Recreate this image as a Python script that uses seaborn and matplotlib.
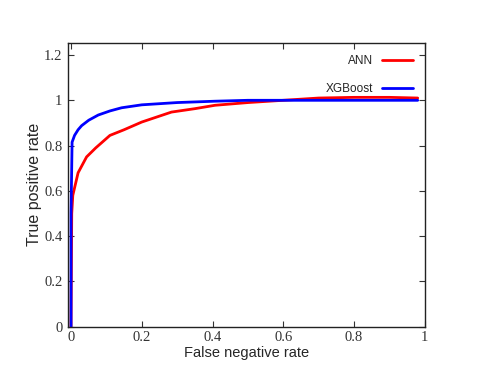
import pandas as pd
import matplotlib
matplotlib.use("Agg")
import matplotlib.pyplot as plt
import seaborn as sns
from matplotlib.ticker import FormatStrFormatter

# curves
fnr_ann = [0.0, 0.002, 0.005, 0.011, 0.02, 0.044, 0.07, 0.11, 0.15, 0.2, 0.284, 0.35, 0.407, 0.5, 0.6, 0.7, 0.8, 0.9, 0.98]
tpr_ann = [0.0, 0.5, 0.58, 0.62, 0.68, 0.75, 0.79, 0.845, 0.87, 0.904, 0.948, 0.963, 0.978, 0.99, 1.0, 1.01, 1.013, 1.013, 1.01]
fnr_xgb = [0.0, 0.0, 0.003, 0.01, 0.02, 0.03, 0.05, 0.077, 0.11, 0.143, 0.2, 0.3, 0.407, 0.5, 0.6, 0.8, 0.98]
tpr_xgb = [0.0, 0.5, 0.815, 0.845, 0.87, 0.888, 0.912, 0.935, 0.953, 0.967, 0.98, 0.99, 0.996, 1.0, 1.0, 1.0, 1.0]
x_ticks = [0, 0.2, 0.4, 0.6, 0.8, 1]
y_ticks = [0, 0.2, 0.4, 0.6, 0.8, 1, 1.2]

sns.set_style("ticks")

fig = plt.figure(figsize=(4.8, 3.82), dpi=100)
ax = fig.add_axes([0.1417, 0.1447, 0.7433, 0.7427])

sns.lineplot(x=fnr_ann, y=tpr_ann, ax=ax, color="#ff0000", lw=2, estimator=None, sort=False, label="ANN")
sns.lineplot(x=fnr_xgb, y=tpr_xgb, ax=ax, color="#0000ff", lw=2, estimator=None, sort=False, label="XGBoost")

ax.set_xlim(-0.0085, 1)
ax.set_ylim(0, 1.253)
ax.set_xticks(x_ticks)
ax.set_yticks(y_ticks)
ax.xaxis.set_major_formatter(FormatStrFormatter("%g"))
ax.yaxis.set_major_formatter(FormatStrFormatter("%g"))
ax.tick_params(direction="in", length=4, width=0.8, top=True, right=True,
               labelsize=10.5, colors="#333333")
ax.tick_params(axis="y", pad=4)
ax.tick_params(axis="x", pad=3)
for lab in ax.get_xticklabels() + ax.get_yticklabels():
    lab.set_family("Liberation Serif")
for s in ax.spines.values():
    s.set_color("#222222")
    s.set_linewidth(1)

ax.set_xlabel("False negative rate", family="Liberation Sans", fontsize=10.5, labelpad=1.5)
ax.set_ylabel("True positive rate", family="Liberation Sans", fontsize=11.5, labelpad=1.5)

ax.legend(loc="upper right", frameon=False, markerfirst=False, handlelength=2.6,
          prop={"family": "Liberation Sans", "size": 8.5}, labelspacing=1.4,
          borderaxespad=0.6)

plt.savefig("out.png", dpi=100)
